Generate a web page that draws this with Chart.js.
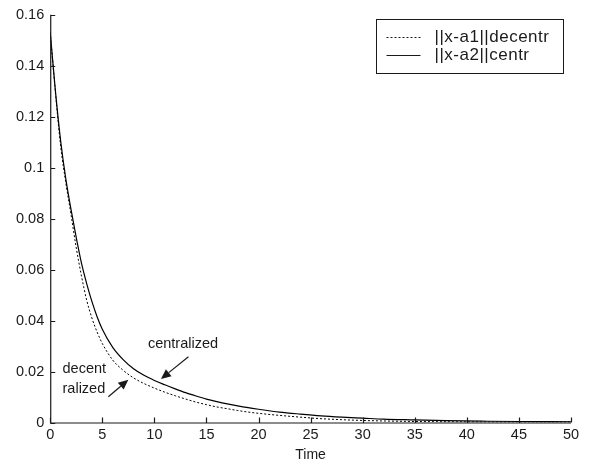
<!DOCTYPE html>
<html>
<head>
<meta charset="utf-8">
<script src="https://cdn.jsdelivr.net/npm/chart.js@4/dist/chart.umd.min.js"></script>
<style>
  html, body { margin: 0; padding: 0; background: #fff; }
  #wrap { width: 602px; height: 465px; position: relative; }
</style>
</head>
<body>
<div id="wrap"><canvas id="c" width="602" height="465"></canvas></div>
<script>
// ---- data ----
const timeValues = [0, 0.5, 1, 1.5, 2, 2.5, 3, 3.5, 4, 4.5, 5, 6, 7, 8, 9, 10, 11, 12, 13, 14, 15, 16, 17, 18, 19, 20, 22, 24, 26, 28, 30, 32, 35, 38, 42, 45, 50];
const decentrValues = [0.153, 0.1295, 0.1085, 0.094, 0.0815, 0.0685, 0.0575, 0.048, 0.041, 0.0355, 0.031, 0.0245, 0.0205, 0.0175, 0.0153, 0.0135, 0.0119, 0.0105, 0.0092, 0.008, 0.007, 0.0061, 0.0054, 0.0047, 0.0041, 0.0036, 0.0028, 0.0021, 0.0015, 0.0011, 0.0008, 0.0006, 0.0004, 0.0003, 0.0002, 0.0002, 0.0002];
const centrValues = [0.153, 0.130, 0.1105, 0.0955, 0.0835, 0.0725, 0.0625, 0.0545, 0.0475, 0.0415, 0.0366, 0.0295, 0.0247, 0.0211, 0.0185, 0.0165, 0.0148, 0.0132, 0.0117, 0.0104, 0.0092, 0.0082, 0.0073, 0.0065, 0.0058, 0.0052, 0.0041, 0.0033, 0.0026, 0.0021, 0.0017, 0.0013, 0.001, 0.0007, 0.0005, 0.0004, 0.0003];
const seriesLabels = ['||x-a1||decentr', '||x-a2||centr'];
const xTickValues = [0, 5, 10, 15, 20, 25, 30, 35, 40, 45, 50];
const yTickValues = [0, 0.02, 0.04, 0.06, 0.08, 0.1, 0.12, 0.14, 0.16];
const xAxisTitle = 'Time';
// annotations (data coordinates)
const annCentrText = { x: 12.75, y: 0.0307, text: 'centralized' };
const annCentrArrow = { x0: 13.27, y0: 0.0258, x1: 10.63, y1: 0.0171 };
const annDecentrText = { x: 1.18, y1: 0.0210, y2: 0.0133, text1: 'decent', text2: 'ralized' };
const annDecentrArrow = { x0: 5.58, y0: 0.0101, x1: 7.5, y1: 0.0168 };

const FONT = '"Liberation Sans", Arial, Helvetica, sans-serif';
const INK = '#1a1a1a';

function pts(xs, ys) { return xs.map((x, i) => ({ x: x, y: ys[i] })); }

const axesPlugin = {
  id: 'axesPlugin',
  afterDraw(chart) {
    const ctx = chart.ctx;
    const xs = chart.scales.x, ys = chart.scales.y;
    const a = chart.chartArea;
    ctx.save();
    ctx.strokeStyle = INK;
    ctx.lineWidth = 1.2;
    ctx.beginPath();
    ctx.moveTo(a.left + 0.5, a.top);
    ctx.lineTo(a.left + 0.5, a.bottom + 0.5);
    ctx.lineTo(a.right, a.bottom + 0.5);
    xTickValues.forEach(v => {
      const px = Math.round(xs.getPixelForValue(v)) + 0.5;
      ctx.moveTo(px, a.bottom);
      ctx.lineTo(px, a.bottom - 5);
    });
    yTickValues.forEach(v => {
      const py = Math.round(ys.getPixelForValue(v)) + 0.5;
      ctx.moveTo(a.left, py);
      ctx.lineTo(a.left + 5, py);
    });
    ctx.stroke();

    // annotations
    ctx.lineWidth = 1.2;
    ctx.fillStyle = INK;
    ctx.font = '14.5px ' + FONT;
    ctx.textBaseline = 'middle';
    ctx.textAlign = 'center';
    ctx.fillText(annCentrText.text, xs.getPixelForValue(annCentrText.x), ys.getPixelForValue(annCentrText.y));
    ctx.textAlign = 'left';
    ctx.fillText(annDecentrText.text1, xs.getPixelForValue(annDecentrText.x), ys.getPixelForValue(annDecentrText.y1));
    ctx.fillText(annDecentrText.text2, xs.getPixelForValue(annDecentrText.x), ys.getPixelForValue(annDecentrText.y2));
    const arrow = (ar) => {
      const x0 = xs.getPixelForValue(ar.x0), y0 = ys.getPixelForValue(ar.y0);
      const x1 = xs.getPixelForValue(ar.x1), y1 = ys.getPixelForValue(ar.y1);
      const ang = Math.atan2(y1 - y0, x1 - x0);
      const hl = 10, hw = 4.5;
      const bx = x1 - hl * Math.cos(ang), by = y1 - hl * Math.sin(ang);
      ctx.beginPath();
      ctx.moveTo(x0, y0);
      ctx.lineTo(bx, by);
      ctx.stroke();
      ctx.beginPath();
      ctx.moveTo(x1, y1);
      ctx.lineTo(bx + hw * Math.sin(ang), by - hw * Math.cos(ang));
      ctx.lineTo(bx - hw * Math.sin(ang), by + hw * Math.cos(ang));
      ctx.closePath();
      ctx.fill();
    };
    arrow(annCentrArrow);
    arrow(annDecentrArrow);

    // legend box
    ctx.lineWidth = 1;
    const bw = 187, bh = 54;
    const bx0 = Math.round(a.right - 8 - bw) + 0.5, by0 = Math.round(a.top + 4.5) + 0.5;
    ctx.fillStyle = '#fff';
    ctx.fillRect(bx0, by0, bw, bh);
    ctx.strokeStyle = INK;
    ctx.strokeRect(bx0, by0, bw, bh);
    ctx.font = '17px ' + FONT;
    if ('letterSpacing' in ctx) ctx.letterSpacing = '0.5px';
    ctx.textAlign = 'left';
    ctx.textBaseline = 'middle';
    chart.data.datasets.forEach((ds, i) => {
      const cy = Math.round(by0 + 17 + i * 18.5) + 0.5;
      ctx.setLineDash(ds.borderDash || []);
      ctx.beginPath();
      ctx.moveTo(bx0 + 10, cy);
      ctx.lineTo(bx0 + 44, cy);
      ctx.stroke();
      ctx.setLineDash([]);
      ctx.fillStyle = INK;
      ctx.fillText(ds.label, bx0 + 58, cy);
    });
    ctx.restore();
  }
};

new Chart(document.getElementById('c'), {
  type: 'line',
  data: {
    datasets: [
      { label: seriesLabels[0], data: pts(timeValues, decentrValues), borderColor: '#000', borderWidth: 1, borderDash: [2, 2], pointRadius: 0, cubicInterpolationMode: 'monotone', fill: false },
      { label: seriesLabels[1], data: pts(timeValues, centrValues), borderColor: '#000', borderWidth: 1.2, pointRadius: 0, cubicInterpolationMode: 'monotone', fill: false }
    ]
  },
  options: {
    responsive: false,
    animation: false,
    devicePixelRatio: 1,
    layout: { padding: { left: 10, right: 31, top: 10, bottom: 3 } },
    plugins: { legend: { display: false }, tooltip: { enabled: false } },
    scales: {
      x: {
        type: 'linear', min: 0, max: 50,
        border: { display: false },
        grid: { display: false, drawTicks: false },
        afterBuildTicks: s => { s.ticks = xTickValues.map(v => ({ value: v })); },
        ticks: { color: INK, font: { family: FONT, size: 14.5, lineHeight: 1.0 }, padding: 5.5, maxRotation: 0, autoSkip: false, callback: v => String(v) },
        title: { display: true, text: xAxisTitle, color: INK, font: { family: FONT, size: 14, lineHeight: 1.0 }, padding: { top: 0, bottom: 0 } }
      },
      y: {
        type: 'linear', min: 0, max: 0.16,
        border: { display: false },
        grid: { display: false, drawTicks: false },
        afterBuildTicks: s => { s.ticks = yTickValues.map(v => ({ value: v })); },
        ticks: { color: INK, font: { family: FONT, size: 14.5 }, padding: 6, autoSkip: false, callback: v => String(Number(v.toFixed(2))) }
      }
    }
  },
  plugins: [axesPlugin]
});
</script>
</body>
</html>
